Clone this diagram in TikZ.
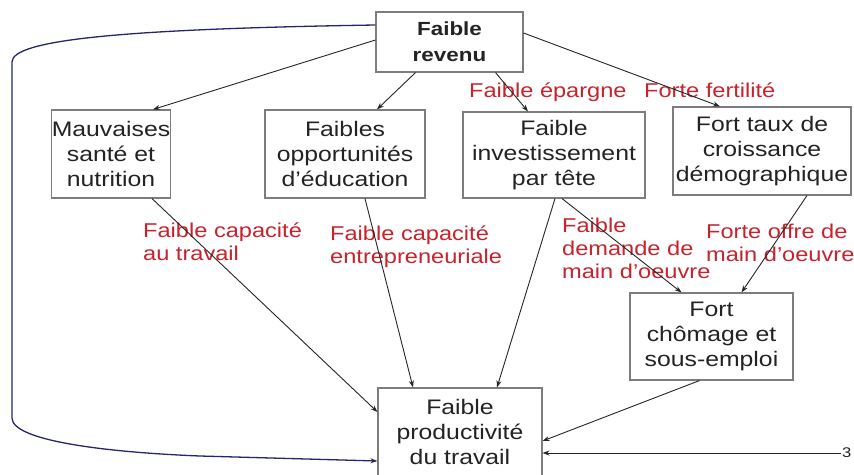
\documentclass[tikz,border=0pt]{standalone}
\usepackage{fontspec}
\setmainfont{Liberation Sans}[FakeStretch=1.18]
\usetikzlibrary{arrows.meta}
\definecolor{boxline}{RGB}{125,125,125}
\definecolor{labelred}{RGB}{200,35,45}
\definecolor{loopblue}{RGB}{38,38,105}
\definecolor{txt}{RGB}{35,35,35}

\begin{document}
\begin{tikzpicture}[x=1pt,y=-1pt,
  box/.style={draw=boxline, line width=1.1pt, align=center, inner sep=0pt,
              font=\fontsize{21}{25}\selectfont, text=txt},
  lbl/.style={text=labelred, align=left, inner sep=0pt, anchor=north west,
              font=\fontsize{20}{23}\selectfont},
  arr/.style={draw=black!85, line width=0.9pt, -{Stealth[length=7pt,width=5pt]}},
]
\useasboundingbox (0,0) rectangle (854,474);
\fill[white] (0,0) rectangle (854,474);

% boxes
\node[box, minimum width=147pt, minimum height=60pt,
      font=\bfseries\fontsize{19}{26}\selectfont] (rev) at (449.5,42) {Faible\\revenu};
\node[box, minimum width=118pt, minimum height=88pt] (mau) at (111,154) {Mauvaises\\santé et\\nutrition};
\node[box, minimum width=160pt, minimum height=88pt] (opp) at (345,154) {Faibles\\opportunités\\d’éducation};
\node[box, minimum width=182pt, minimum height=86pt] (inv) at (554,155) {Faible\\investissement\\par tête};
\node[box, minimum width=178pt, minimum height=88pt] (dem) at (762,151) {Fort taux de\\croissance\\démographique};
\node[box, minimum width=163pt, minimum height=87pt] (cho) at (711.5,336.5) {Fort\\chômage et\\sous-emploi};
\node[box, minimum width=164pt, minimum height=88pt] (pro) at (460,432) {Faible\\productivité\\du travail};

% red labels
\node[lbl] (lep) at (469,81) {\strut Faible épargne};
\node[lbl] (lfe) at (644,81) {\strut Forte fertilité};
\node[lbl] (lct) at (143,221) {\strut Faible capacité\\au travail};
\node[lbl] (lce) at (330,224) {\strut Faible capacité\\entrepreneuriale};
\node[lbl] (ldm) at (562,216) {\strut Faible\\demande de\\main d’oeuvre};
\node[lbl] (lom) at (706,222) {\strut Forte offre de\\main d’oeuvre};

% slide number at the right edge
\node[anchor=west, inner sep=0pt, font=\fontsize{14}{14}\selectfont, text=txt] (pg) at (842,453) {3};
\coordinate (rin) at (841,453);

% arrows
\draw[arr] ([yshift=2pt]rev.west) -- ([xshift=42pt]mau.north);
\draw[arr] ([xshift=-34pt]rev.south) -- ([xshift=32pt]opp.north);
\draw[arr] ([xshift=46pt]rev.south) -- ([xshift=-26pt]inv.north);
\draw[arr] ([yshift=9pt]rev.east) -- ([xshift=-42pt]dem.north);
\draw[arr] ([xshift=41pt]mau.south) -- ([yshift=20pt]pro.west);
\draw[arr] ([xshift=20pt]opp.south) -- ([xshift=-47pt]pro.north);
\draw[arr] ([xshift=1pt]inv.south) -- ([xshift=37pt]pro.north);
\draw[arr] ([xshift=8pt]inv.south) -- ([xshift=-30pt]cho.north);
\draw[arr] ([xshift=45pt]dem.south) -- ([xshift=30pt]cho.north);
\draw[arr] ([xshift=-12pt]cho.south) -- ([yshift=-9pt]pro.east);
\draw[arr] (rin) -- ([yshift=-21pt]pro.east);

% feedback loop on the left
\draw[loopblue, line width=1.3pt, -{Stealth[length=7pt,width=5pt]}]
  ([yshift=17pt]rev.west) .. controls (120,29) and (12,40) .. (12,62)
  -- (12,418) .. controls (12,440) and (100,452) .. (200,456)
  -- ([yshift=-29pt]pro.west);
\end{tikzpicture}
\end{document}
